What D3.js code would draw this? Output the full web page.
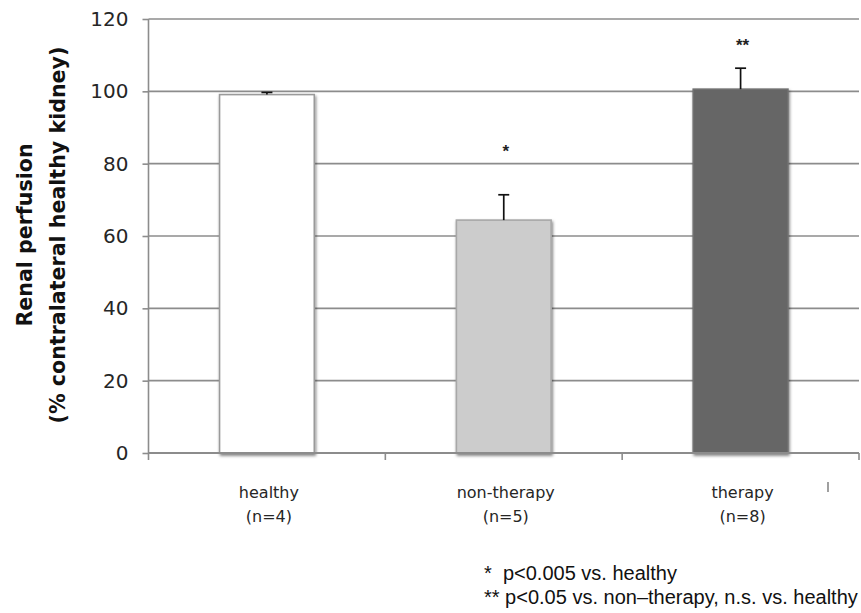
<!DOCTYPE html>
<html>
<head>
<meta charset="utf-8">
<script src="https://cdn.jsdelivr.net/npm/d3@7"></script>
<style>
  html, body { margin: 0; padding: 0; background: #fff; }
  svg { display: block; }
</style>
</head>
<body>
<svg id="chart" width="861" height="613"></svg>
<script>
// Groups, their sample sizes and the measured perfusion (mean and SD)
const groups = ["healthy", "non-therapy", "therapy"];
const groupN = [4, 5, 8];
const meanValues = [99.1, 64.4, 100.6];
const sdValues = [0.6, 7.0, 5.8];
const barFills = ["#ffffff", "#cccccc", "#666666"];
const barStrokes = ["#9a9a9a", "#a8a8a8", "#707070"];
// Significance marks and the height (in % units) at which they sit
const sigMarks = ["", "*", "**"];
const sigLevels = [null, 84.2, 113.6];
const yTicks = [0, 20, 40, 60, 80, 100, 120];
const footnotes = [
  "*  p<0.005 vs. healthy",
  "** p<0.05 vs. non\u2013therapy, n.s. vs. healthy"
];

const svg = d3.select("#chart");
const plotLeft = 148.5, plotRight = 859, plotTop = 19, plotBottom = 453;

const y = d3.scaleLinear().domain([0, 120]).range([plotBottom, plotTop]);
const x = d3.scaleBand().domain(groups).range([plotLeft, plotRight]).padding(0);
const barW = x.bandwidth() * 0.4;

// soft drop shadow under the bars
const defs = svg.append("defs");
const f = defs.append("filter").attr("id", "shadow")
  .attr("x", "-20%").attr("y", "-20%").attr("width", "140%").attr("height", "140%");
f.append("feDropShadow").attr("dx", 1).attr("dy", 2)
  .attr("stdDeviation", 1.6).attr("flood-color", "#000").attr("flood-opacity", 0.5);

// horizontal gridlines
svg.append("g").selectAll("line")
  .data(yTicks.filter(t => t > 0))
  .join("line")
  .attr("x1", plotLeft).attr("x2", plotRight)
  .attr("y1", d => y(d)).attr("y2", d => y(d))
  .attr("stroke", "#8c8c8c").attr("stroke-width", 1.6);

// y axis
const yAxis = d3.axisLeft(y).tickValues(yTicks).tickSize(6).tickPadding(14);
const gy = svg.append("g").attr("transform", `translate(${plotLeft},0)`).call(yAxis);
gy.select(".domain").attr("stroke", "#8c8c8c").attr("stroke-width", 1.6)
  .attr("d", `M0,${plotTop}V${plotBottom + 7}`);
gy.selectAll(".tick line").attr("stroke", "#8c8c8c").attr("stroke-width", 1.6);
gy.selectAll(".tick text")
  .attr("font-family", "DejaVu Sans").attr("font-size", 20).attr("fill", "#262626");

// bars
const bars = svg.append("g");
bars.selectAll("rect")
  .data(groups)
  .join("rect")
  .attr("x", d => x(d) + (x.bandwidth() - barW) / 2)
  .attr("width", barW)
  .attr("y", (d, i) => y(meanValues[i]))
  .attr("height", (d, i) => y(0) - y(meanValues[i]))
  .attr("fill", (d, i) => barFills[i])
  .attr("stroke", (d, i) => barStrokes[i])
  .attr("stroke-width", 1.6)
  .attr("filter", "url(#shadow)");

// x axis line with ticks at the group boundaries
const xTickPos = groups.map(g => x(g)).concat([plotRight]);
svg.append("line")
  .attr("x1", plotLeft).attr("x2", plotRight)
  .attr("y1", y(0)).attr("y2", y(0))
  .attr("stroke", "#8c8c8c").attr("stroke-width", 1.8);
svg.append("g").selectAll("line")
  .data(xTickPos.slice(1))
  .join("line")
  .attr("x1", d => d).attr("x2", d => d)
  .attr("y1", y(0)).attr("y2", y(0) + 7)
  .attr("stroke", "#8c8c8c").attr("stroke-width", 1.6);

// error bars (upper half only)
const eb = svg.append("g").attr("stroke", "#111").attr("stroke-width", 1.7);
groups.forEach((g, i) => {
  const cx = x(g) + x.bandwidth() / 2;
  eb.append("line").attr("x1", cx).attr("x2", cx)
    .attr("y1", y(meanValues[i])).attr("y2", y(meanValues[i] + sdValues[i]));
  eb.append("line").attr("x1", cx - 5.5).attr("x2", cx + 5.5)
    .attr("y1", y(meanValues[i] + sdValues[i])).attr("y2", y(meanValues[i] + sdValues[i]));
});

// significance asterisks
svg.append("g").selectAll("text")
  .data(groups.map((g, i) => ({ g, m: sigMarks[i], v: sigLevels[i] })).filter(d => d.m))
  .join("text")
  .attr("x", d => x(d.g) + x.bandwidth() / 2 + 2)
  .attr("y", d => y(d.v) + 9)
  .attr("text-anchor", "middle")
  .attr("font-family", "Liberation Sans").attr("font-size", 17).attr("font-weight", "bold")
  .attr("fill", "#222")
  .text(d => d.m);

// category labels
const xl = svg.append("g")
  .attr("font-family", "DejaVu Sans").attr("font-size", 16).attr("fill", "#262626")
  .attr("text-anchor", "middle");
groups.forEach((g, i) => {
  const cx = x(g) + x.bandwidth() / 2 + 2;
  xl.append("text").attr("x", cx).attr("y", 498).text(g);
  xl.append("text").attr("x", cx).attr("y", 522).text(`(n=${groupN[i]})`);
});

// small stray mark to the right of the last label
svg.append("line").attr("x1", 828).attr("x2", 828).attr("y1", 482).attr("y2", 492)
  .attr("stroke", "#777").attr("stroke-width", 1.4);

// y axis title (two lines, rotated)
const yt = svg.append("g")
  .attr("font-family", "DejaVu Sans").attr("font-weight", "bold").attr("font-size", 20.6)
  .attr("fill", "#111").attr("text-anchor", "middle");
yt.append("text").attr("transform", "translate(32,235) rotate(-90)").text("Renal perfusion");
yt.append("text").attr("transform", "translate(65,235) rotate(-90)").text("(% contralateral healthy kidney)");

// footnotes
svg.append("g").selectAll("text")
  .data(footnotes)
  .join("text")
  .attr("x", 484)
  .attr("y", (d, i) => 580 + i * 24)
  .attr("font-family", "Liberation Sans").attr("font-size", 20).attr("fill", "#111")
  .style("white-space", "pre")
  .text(d => d);
</script>
</body>
</html>
